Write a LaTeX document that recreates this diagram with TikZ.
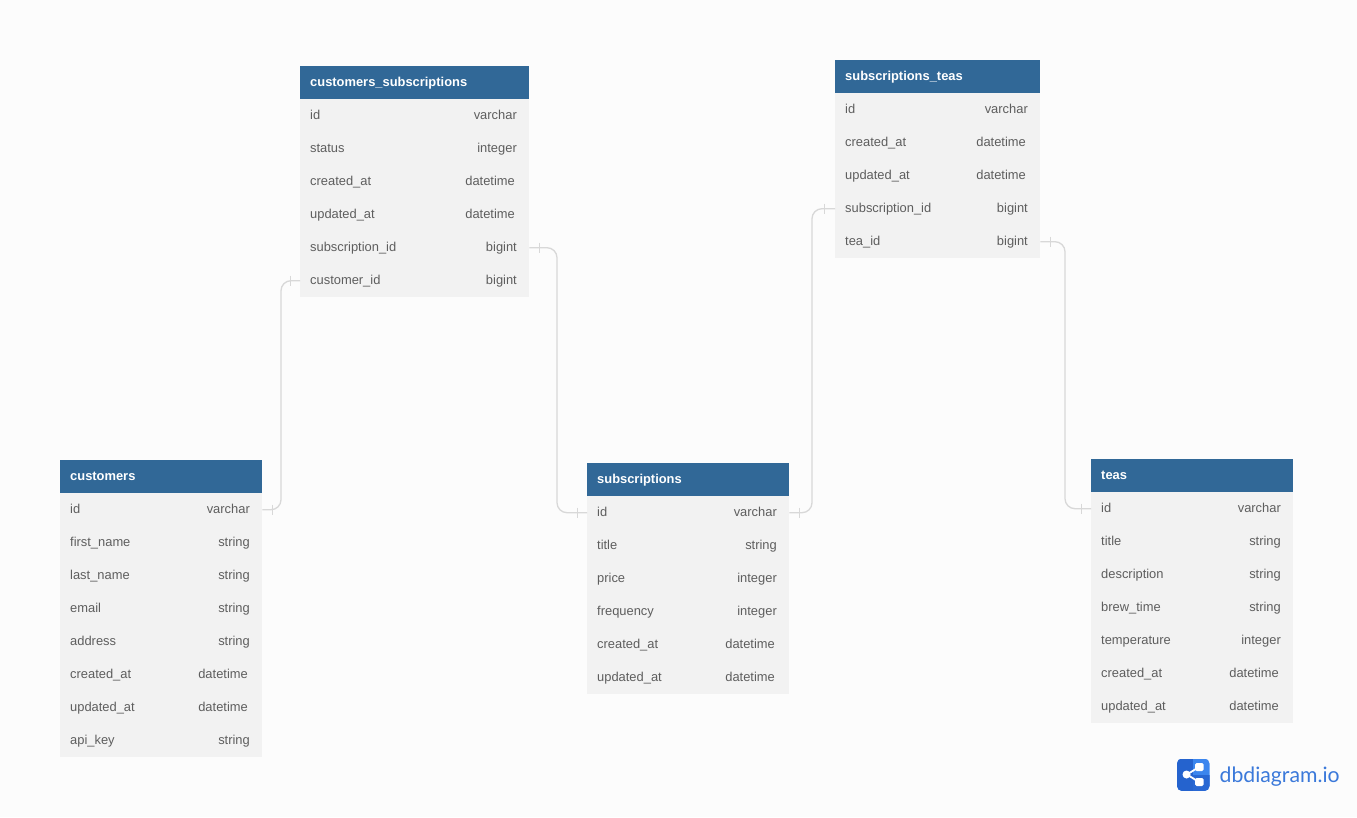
\documentclass[tikz,border=0pt]{standalone}
\usepackage{fontspec}
\setmainfont{Liberation Sans}
\newfontfamily\logofont{Lato}
\definecolor{pagebg}{HTML}{FCFCFC}
\definecolor{headblue}{HTML}{316897}
\definecolor{rowgray}{HTML}{F2F2F2}
\definecolor{rowtext}{HTML}{5E5E5E}
\definecolor{linkgray}{HTML}{D8D8D8}
\definecolor{logodark}{HTML}{2563CE}
\definecolor{logolight}{HTML}{3C86EE}
\definecolor{logotext}{HTML}{3B79DA}
\newcommand{\dtm}{datetime\kern2pt}
\tikzset{
  x=1pt,y=-1pt,
  headbox/.style={fill=headblue,draw=none,inner sep=0pt,anchor=north west,minimum height=33pt},
  rowbox/.style={fill=rowgray,draw=none,inner sep=0pt,anchor=north west,minimum height=33pt},
  headtext/.style={text=white,font=\fontsize{12.9}{15}\selectfont\bfseries,inner sep=0pt,anchor=base west},
  fieldtext/.style={text=rowtext,font=\fontsize{12.9}{15}\selectfont,inner sep=0pt,anchor=base west},
  typetext/.style={text=rowtext,font=\fontsize{12.9}{15}\selectfont,inner sep=0pt,anchor=base east},
  rel/.style={draw=linkgray,line width=1.3pt,rounded corners=10pt},
  tick/.style={draw=linkgray,line width=0.8pt},
}
\newcommand{\dbtable}[6]{%
  \node[headbox,minimum width=#4 pt] (#1-h) at (#2,#3) {};
  \node[headtext] (#1-title) at (#2+10,#3+20.5) {#5};
  \foreach \fld/\typ [count=\i] in {#6} {
    \node[rowbox,minimum width=#4 pt] (#1-\i) at (#2,#3+33*\i) {};
    \node[fieldtext] (#1-\i-f) at (#2+10,#3+33*\i+20.5) {\fld};
    \node[typetext] (#1-\i-t) at (#2+#4-12,#3+33*\i+20.5) {\typ};
  }%
}
\begin{document}
\begin{tikzpicture}
\useasboundingbox[fill=pagebg] (0,0) rectangle (1357,817);

\dbtable{cs}{300}{66}{229}{customers\_subscriptions}{id/varchar,status/integer,created\_at/\dtm,updated\_at/\dtm,subscription\_id/bigint,customer\_id/bigint}
\dbtable{st}{835}{60}{205}{subscriptions\_teas}{id/varchar,created\_at/\dtm,updated\_at/\dtm,subscription\_id/bigint,tea\_id/bigint}
\dbtable{cu}{60}{460}{202}{customers}{id/varchar,first\_name/string,last\_name/string,email/string,address/string,created\_at/\dtm,updated\_at/\dtm,api\_key/string}
\dbtable{su}{587}{463}{202}{subscriptions}{id/varchar,title/string,price/integer,frequency/integer,created\_at/\dtm,updated\_at/\dtm}
\dbtable{te}{1091}{459}{202}{teas}{id/varchar,title/string,description/string,brew\_time/string,temperature/integer,created\_at/\dtm,updated\_at/\dtm}

\coordinate (ch1) at (281,400);
\coordinate (ch2) at (557,400);
\coordinate (ch3) at (812,400);
\coordinate (ch4) at (1065,400);

\draw[rel] (cs-6.west) -| (ch1) |- (cu-1.east);
\draw[rel] (cs-5.east) -| (ch2) |- (su-1.west);
\draw[rel] (su-1.east) -| (ch3) |- (st-4.west);
\draw[rel] (st-5.east) -| (ch4) |- (te-1.west);

\draw[tick] (cs-6.west) ++(-10,-5) -- ++(0,10);
\draw[tick] (cu-1.east) ++(10,-5) -- ++(0,10);
\draw[tick] (cs-5.east) ++(10,-5) -- ++(0,10);
\draw[tick] (su-1.west) ++(-10,-5) -- ++(0,10);
\draw[tick] (su-1.east) ++(10,-5) -- ++(0,10);
\draw[tick] (st-4.west) ++(-11,-5) -- ++(0,10);
\draw[tick] (st-5.east) ++(10,-5) -- ++(0,10);
\draw[tick] (te-1.west) ++(-10,-5) -- ++(0,10);

% logo
\begin{scope}
  \clip[rounded corners=5pt] (1177,758.5) rectangle (1209.5,791);
  \fill[logolight] (1177,758.5) rectangle (1209.5,791);
  \fill[logodark] (1177,758.5) rectangle (1192.5,791);
  \fill[logodark!85!logolight] (1192.5,775) rectangle (1209.5,791);
\end{scope}
\draw[white,line width=1.8pt] (1199,767) -- (1187,774.5) -- (1199,782);
\fill[white] (1186.5,774.5) circle (4pt);
\fill[white,rounded corners=1.5pt] (1195,763) rectangle (1203.5,771);
\fill[white,rounded corners=1.5pt] (1195,778) rectangle (1203.5,786);
\node[text=logotext,font=\logofont\fontsize{21.2}{25}\selectfont,inner sep=0pt,anchor=base west] (logo) at (1219.5,782) {dbdiagram.io};
\end{tikzpicture}
\end{document}
